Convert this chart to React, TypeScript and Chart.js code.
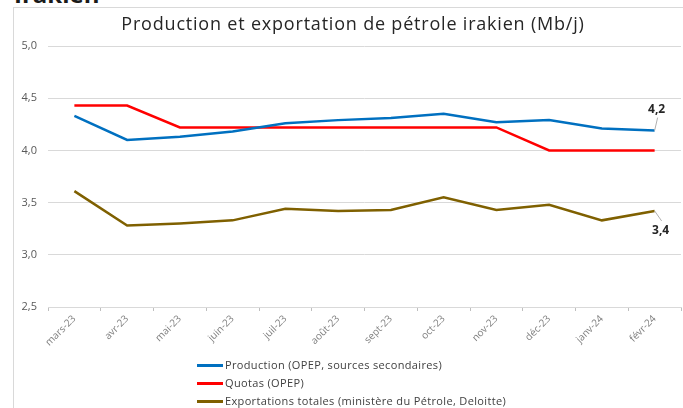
import React, { useEffect, useRef } from "react";
import { Chart, registerables } from "chart.js";

Chart.register(...registerables);

const categories = ["mars-23", "avr-23", "mai-23", "juin-23", "juil-23", "août-23", "sept-23", "oct-23", "nov-23", "déc-23", "janv-24", "févr-24"];
const production = [4.33, 4.1, 4.13, 4.18, 4.26, 4.29, 4.31, 4.35, 4.27, 4.29, 4.21, 4.19];
const quotas = [4.43, 4.43, 4.22, 4.22, 4.22, 4.22, 4.22, 4.22, 4.22, 4.0, 4.0, 4.0];
const exportations = [3.61, 3.28, 3.3, 3.33, 3.44, 3.42, 3.43, 3.55, 3.43, 3.48, 3.33, 3.42];
const seriesNames = ["Production (OPEP, sources secondaires)", "Quotas (OPEP)", "Exportations totales (ministère du Pétrole, Deloitte)"];
const seriesColors = ["#0070C0", "#FF0000", "#7F6000"];
const yTicks = [2.5, 3.0, 3.5, 4.0, 4.5, 5.0];
const title = "Production et exportation de pétrole irakien (Mb/j)";
const endLabels = ["4,2", "", "3,4"];

const FONT = "'Open Sans', sans-serif";

const endLabelPlugin = {
  id: "endLabels",
  afterDatasetsDraw(chart: any) {
    const ctx = chart.ctx;
    ctx.save();
    ctx.font = `bold 12px ${FONT}`;
    ctx.fillStyle = "#262626";
    ctx.textAlign = "center";
    ctx.textBaseline = "middle";
    chart.data.datasets.forEach((ds: any, i: number) => {
      const lbl = endLabels[i];
      if (!lbl) return;
      const meta = chart.getDatasetMeta(i);
      const pt = meta.data[meta.data.length - 1];
      const above = i === 0;
      const tx = pt.x + (above ? 2 : 6);
      const ty = above ? pt.y - 21 : pt.y + 20;
      ctx.strokeStyle = "#b0b0b0";
      ctx.lineWidth = 1;
      ctx.beginPath();
      ctx.moveTo(pt.x, pt.y);
      if (above) {
        ctx.lineTo(pt.x + 3, pt.y - 13);
      } else {
        ctx.lineTo(pt.x + 7, pt.y + 10);
      }
      ctx.stroke();
      ctx.fillText(lbl, tx, ty);
    });
    ctx.restore();
  },
};

export default function App() {
  const ref = useRef<HTMLCanvasElement>(null);
  useEffect(() => {
    if (!ref.current) return;
    const chart = new Chart(ref.current, {
      type: "line",
      data: {
        labels: categories,
        datasets: [production, quotas, exportations].map((d, i) => ({
          label: seriesNames[i],
          data: d,
          borderColor: seriesColors[i],
          backgroundColor: seriesColors[i],
          borderWidth: 2.5,
          pointRadius: 0,
          tension: 0,
          fill: false,
        })),
      },
      options: {
        responsive: false,
        animation: false,
        devicePixelRatio: 1,
        layout: { padding: { top: 46, right: 2, left: 0, bottom: 0 } },
        plugins: {
          legend: { display: false },
          tooltip: { enabled: false },
          title: { display: false },
        },
        scales: {
          x: {
            offset: true,
            grid: { display: true, drawOnChartArea: false, drawTicks: true, tickLength: 4, offset: true, color: "#bfbfbf" },
            border: { display: true, color: "#d9d9d9" },
            ticks: {
              minRotation: 45,
              maxRotation: 45,
              autoSkip: false,
              color: "#7f7f7f",
              font: { family: FONT, size: 10 },
              padding: 2,
            },
            afterFit(scale: any) {
              scale.height = 101;
            },
          },
          y: {
            min: 2.5,
            max: 5,
            afterBuildTicks(scale: any) {
              scale.ticks = yTicks.map((v) => ({ value: v }));
            },
            grid: { color: "#d9d9d9", drawTicks: false, lineWidth: 1 },
            border: { display: false },
            ticks: {
              color: "#595959",
              font: { family: FONT, size: 11 },
              padding: 11,
              callback: (v: any) => Number(v).toFixed(1).replace(".", ","),
            },
            afterFit(scale: any) {
              scale.width = 48;
            },
          },
        },
      },
      plugins: [endLabelPlugin],
    });
    return () => chart.destroy();
  }, []);

  return (
    <div style={{ position: "fixed", left: 0, top: 0, width: 683, height: 408, overflow: "hidden", background: "#fff", fontFamily: FONT }}>
      <div style={{ position: "absolute", left: 14, top: -23, fontSize: 24, fontWeight: 700, color: "#1a1a1a", whiteSpace: "nowrap" }}>Irakien</div>
      <div style={{ position: "absolute", left: 13, top: 7, width: 700, height: 500, border: "1px solid #d9d9d9", boxSizing: "border-box" }} />
      <canvas ref={ref} width={683} height={408} style={{ position: "absolute", left: 0, top: 0, width: 683, height: 408 }} />
      <div style={{ position: "absolute", left: 0, width: 706, top: 11, textAlign: "center", fontSize: 18, letterSpacing: "0.8px", color: "#262626", whiteSpace: "nowrap" }}>{title}</div>
      <div style={{ position: "absolute", left: 197, top: 356, fontSize: 11, letterSpacing: "0.35px", color: "#404040", lineHeight: "18px" }}>
        {seriesNames.map((n, i) => (
          <div key={n} style={{ display: "flex", alignItems: "center", whiteSpace: "nowrap" }}>
            <span style={{ display: "inline-block", width: 26, height: 3, background: seriesColors[i], marginRight: 2 }} />
            <span>{n}</span>
          </div>
        ))}
      </div>
    </div>
  );
}
